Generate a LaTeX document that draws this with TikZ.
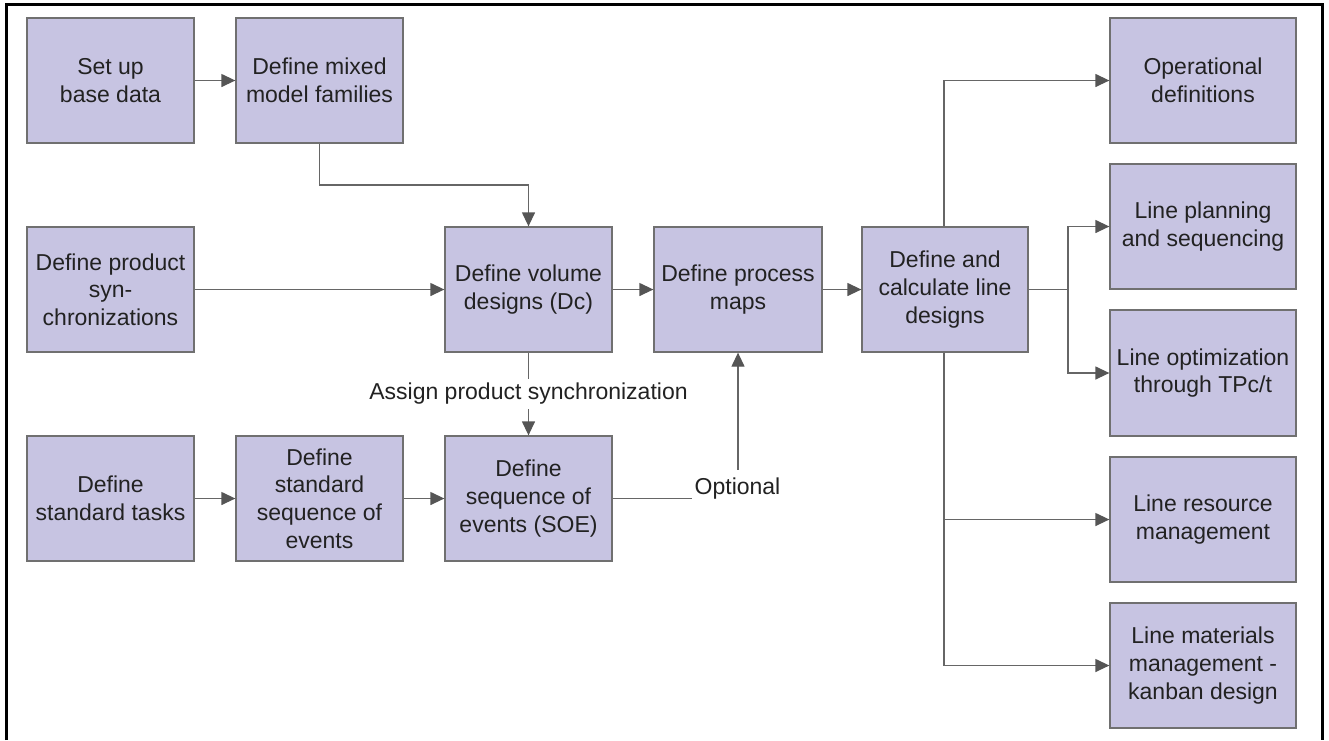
\documentclass[tikz,border=0pt]{standalone}
\usepackage{fontspec}
\setmainfont{Liberation Sans}
\usetikzlibrary{arrows.meta}
\definecolor{boxfill}{HTML}{C7C4E2}
\definecolor{boxline}{HTML}{707070}
\definecolor{linec}{HTML}{666666}
\definecolor{tipc}{HTML}{555555}
\definecolor{txt}{HTML}{222222}
\begin{document}
\begin{tikzpicture}[x=1pt,y=-1pt,
  proc/.style={draw=boxline, fill=boxfill, line width=1.3pt, minimum width=167pt,
    minimum height=125pt, inner sep=0pt, align=center, text=txt,
    font=\fontsize{23}{27.7}\selectfont},
  wide/.style={proc, minimum width=186pt},
  conn/.style={draw=linec, line width=1.3pt},
  arr/.style={conn, -{Triangle[length=14pt,width=13pt,color=tipc]}},
  lbl/.style={fill=white, text=txt, inner xsep=3pt, inner ysep=7pt,
    font=\fontsize{23}{27.7}\selectfont}]
\useasboundingbox (0,0) rectangle (1329,740);
% frame
\draw[line width=3pt] (6,740) -- (6,4.5) -- (1322.5,4.5) -- (1322.5,740);

% left / middle boxes
\node[proc] (setup)    at (110.5,80.5)  {Set up\\base data};
\node[proc] (mixed)    at (319.5,80.5)  {Define mixed\\model families};
\node[proc] (prodsync) at (110.5,289.5) {Define product\\syn-\\chronizations};
\node[proc] (volume)   at (528.5,289.5) {Define volume\\designs (Dc)};
\node[proc, minimum width=168pt] (process) at (738,289.5) {Define process\\maps};
\node[proc, minimum width=166pt] (linedes) at (945,289.5) {Define and\\calculate line\\designs};
\node[proc] (tasks)    at (110.5,498.5) {Define\\standard tasks};
\node[proc] (stdseq)   at (319.5,498.5) {Define\\standard\\sequence of\\events};
\node[proc] (soe)      at (528.5,498.5) {Define\\sequence of\\events (SOE)};

% right column
\node[wide] (oper)      at (1203,80.5)  {Operational\\definitions};
\node[wide] (plan)      at (1203,226.5) {Line planning\\and sequencing};
\node[wide, minimum height=126pt] (optim) at (1203,373) {Line optimization\\through TPc/t};
\node[wide] (resource)  at (1203,519.5) {Line resource\\management};
\node[wide] (materials) at (1203,665.5) {Line materials\\management -\\kanban design};

% connectors
\draw[arr] (setup.east) -- (mixed.west);
\coordinate (m1) at (319.5,185);
\draw[arr] (mixed.south) -- (m1) -| (volume.north);
\draw[arr] (prodsync.east) -- (volume.west);
\draw[arr] (volume.east) -- (process.west);
\draw[arr] (process.east) -- (linedes.west);
\draw[arr] (tasks.east) -- (stdseq.west);
\draw[arr] (stdseq.east) -- (soe.west);
\draw[arr] (volume.south) -- node[lbl, inner ysep=4pt] (assign) {Assign product synchronization} (soe.north);
\draw[arr] (soe.east) -| (process.south);
\node[lbl, anchor=base] (opt) at (737.5,494) {Optional};

\coordinate (up) at (944,80.5);
\draw[arr] (linedes.north -| up) |- (oper.west);
\coordinate (j) at (1068,289.5);
\draw[conn] (linedes.east) -- (j);
\draw[arr] (j) |- (plan.west);
\draw[arr] (j) |- (optim.west);
\draw[arr] (linedes.south -| up) |- (resource.west);
\draw[arr] (linedes.south -| up) |- (materials.west);
\end{tikzpicture}
\end{document}
